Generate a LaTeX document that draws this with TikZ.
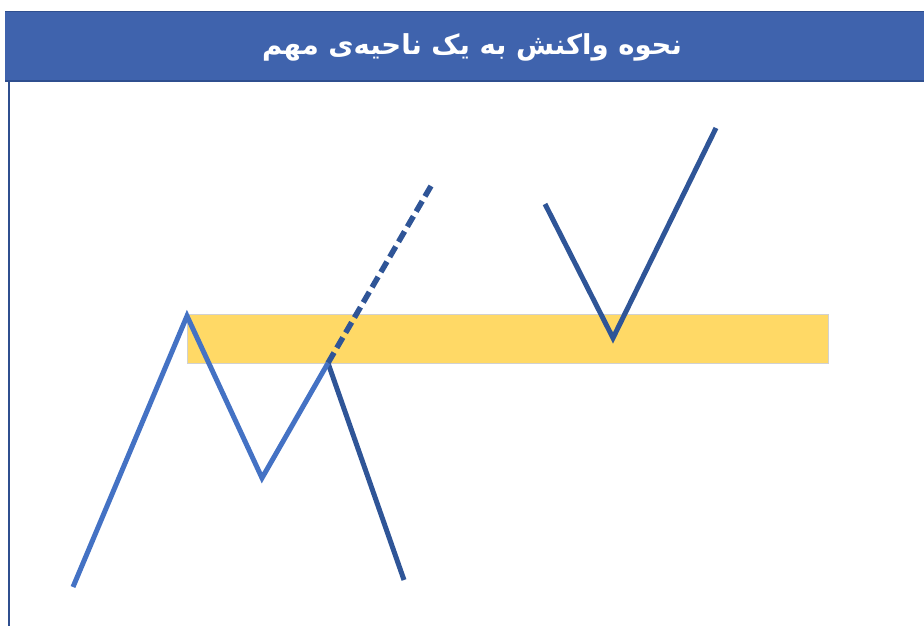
\documentclass[tikz,border=0pt]{standalone}
\usepackage{fontspec}
\newfontfamily\arabicfont[Script=Arabic]{DejaVu Sans}
\TeXXeTstate=1
\definecolor{barblue}{HTML}{3F63AD}
\definecolor{baredge}{HTML}{2F4F8F}
\definecolor{lightblue}{HTML}{4472C4}
\definecolor{darkblue}{HTML}{2F5597}
\definecolor{zone}{HTML}{FFD966}
\tikzset{
  upline/.style={lightblue, line width=5pt},
  downline/.style={darkblue, line width=5pt},
  projline/.style={darkblue, line width=5.5pt, dash pattern=on 12pt off 5.53pt},
}
\begin{document}
\begin{tikzpicture}[x=1pt,y=-1pt]
\useasboundingbox (0,0) rectangle (924,626);
% frame
\draw[baredge, line width=1.2pt] (9,80) -- (9,626);
\fill[barblue] (5,12) rectangle (924,81);
\draw[baredge, line width=1.5pt] (5,81) -- (924,81);
\draw[baredge, line width=1pt] (5,12) -- (924,12);
\node[text=white, font=\arabicfont\bfseries\fontsize{27.5}{32}\selectfont] (title) at (472,47) {\beginR نحوه واکنش به یک ناحیه‌ی مهم\endR};
% zone
\node[draw=black!18, line width=0.8pt, fill=zone, minimum width=641pt, minimum height=49pt, inner sep=0pt, anchor=north west] (zone) at (187,314) {};
% coordinates
\coordinate (a0) at (73,587);
\coordinate (a1) at (187,316);
\coordinate (a2) at (262,478);
\coordinate (a3) at (328,363);
\coordinate (a4) at (404,580);
\coordinate (p1) at (431,186);
\coordinate (v0) at (545,204);
\coordinate (v1) at (613,338);
\coordinate (v2) at (716,128);
% lines
\draw[projline] (a3) -- (p1);
\draw[downline] (a3) -- (a4);
\draw[upline, line join=miter] (a0) -- (a1) -- (a2) -- (a3);
\draw[downline, line join=miter] (v0) -- (v1) -- (v2);
\end{tikzpicture}
\end{document}
